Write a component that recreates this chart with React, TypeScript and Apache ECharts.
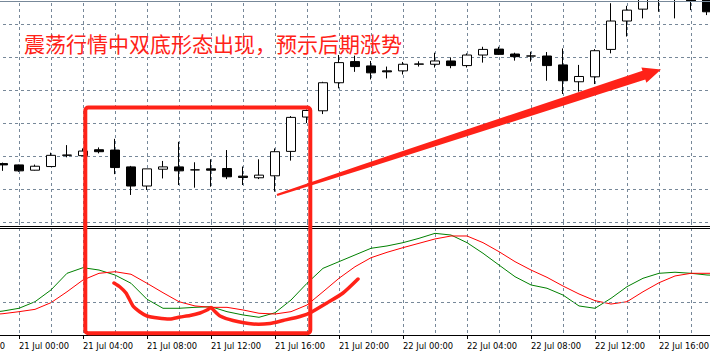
import React, { useEffect, useRef } from 'react';
import * as echarts from 'echarts';

// hourly categories (first three and the last are just off-screen)
const categories = [
  '20 Jul 20:00', '20 Jul 21:00', '20 Jul 22:00', '20 Jul 23:00',
  '21 Jul 00:00', '21 Jul 01:00', '21 Jul 02:00', '21 Jul 03:00', '21 Jul 04:00', '21 Jul 05:00',
  '21 Jul 06:00', '21 Jul 07:00', '21 Jul 08:00', '21 Jul 09:00', '21 Jul 10:00', '21 Jul 11:00',
  '21 Jul 12:00', '21 Jul 13:00', '21 Jul 14:00', '21 Jul 15:00', '21 Jul 16:00', '21 Jul 17:00',
  '21 Jul 18:00', '21 Jul 19:00', '21 Jul 20:00', '21 Jul 21:00', '21 Jul 22:00', '21 Jul 23:00',
  '22 Jul 00:00', '22 Jul 01:00', '22 Jul 02:00', '22 Jul 03:00', '22 Jul 04:00', '22 Jul 05:00',
  '22 Jul 06:00', '22 Jul 07:00', '22 Jul 08:00', '22 Jul 09:00', '22 Jul 10:00', '22 Jul 11:00',
  '22 Jul 12:00', '22 Jul 13:00', '22 Jul 14:00', '22 Jul 15:00', '22 Jul 16:00', '22 Jul 17:00',
  '22 Jul 18:00', '22 Jul 19:00', '22 Jul 20:00',
];

// [open, close, low, high]
const B = ['-', '-', '-', '-'];
const candles: any[] = [
  B, B, B,
  [1.17177, 1.17173, 1.17155, 1.1718],
  [1.17173, 1.17155, 1.17152, 1.17174],
  [1.17157, 1.17169, 1.17156, 1.17174],
  [1.17168, 1.17202, 1.17167, 1.1721],
  [1.17202, 1.17203, 1.17196, 1.17233],
  [1.17201, 1.17215, 1.172, 1.17223],
  [1.17219, 1.17213, 1.17208, 1.17226],
  [1.17218, 1.17165, 1.17145, 1.17252],
  [1.17167, 1.17109, 1.17082, 1.1717],
  [1.17109, 1.17161, 1.17097, 1.17161],
  [1.1716, 1.17167, 1.17132, 1.17185],
  [1.17167, 1.17155, 1.17112, 1.17243],
  [1.17158, 1.17158, 1.17104, 1.17181],
  [1.17161, 1.17157, 1.17107, 1.1719],
  [1.17162, 1.17137, 1.1713, 1.17218],
  [1.17139, 1.17135, 1.17112, 1.17168],
  [1.17134, 1.17142, 1.1713, 1.1719],
  [1.1714, 1.17213, 1.17092, 1.17223],
  [1.17214, 1.17317, 1.17186, 1.17321],
  [1.17318, 1.17338, 1.173, 1.17341],
  [1.17337, 1.17422, 1.17327, 1.17425],
  [1.17422, 1.17483, 1.17405, 1.17506],
  [1.17486, 1.17471, 1.17455, 1.17504],
  [1.17473, 1.17452, 1.17432, 1.17488],
  [1.17458, 1.17455, 1.17435, 1.17471],
  [1.17458, 1.17478, 1.17447, 1.17485],
  [1.17478, 1.17479, 1.17471, 1.17487],
  [1.17478, 1.17488, 1.17468, 1.17513],
  [1.17488, 1.17474, 1.17466, 1.17499],
  [1.17474, 1.17506, 1.17468, 1.17511],
  [1.17506, 1.17523, 1.17483, 1.17531],
  [1.17524, 1.17508, 1.17506, 1.17531],
  [1.17509, 1.17501, 1.17489, 1.17513],
  [1.17503, 1.17503, 1.17486, 1.17516],
  [1.17503, 1.17474, 1.17428, 1.17515],
  [1.17476, 1.17428, 1.17388, 1.17526],
  [1.17425, 1.17441, 1.17395, 1.17476],
  [1.1744, 1.17519, 1.17418, 1.17524],
  [1.17523, 1.17609, 1.17511, 1.17663],
  [1.17609, 1.17642, 1.17562, 1.17655],
  [1.17645, 1.17688, 1.17617, 1.17703],
  [1.17679, 1.17703, 1.17637, 1.17715],
  [1.17679, 1.17697, 1.17617, 1.17709],
  [1.17691, 1.1767, 1.17642, 1.17703],
  [1.17685, 1.17637, 1.17627, 1.17697],
  B,
];

const greenLine: any[] = [
  '-', '-', 20.8,
  22.6, 25.2, 31.4, 42.5, 58.2, 63.5, 61.3, 56.6, 48.8, 33.7,
  25.2, 25.2, 26.1, 26.7, 22.0, 18.9, 16.7, 21.0, 33.0, 48.8,
  62.9, 69.2, 75.5, 81.8, 84.0, 87.1, 91.2, 95.9, 94.3, 87.1,
  77.1, 66.0, 55.0, 47.2, 44.1, 37.7, 27.4, 25.2, 34.6, 45.6,
  53.5, 58.2, 59.2, 58.2, 56.6,
  56.1,
];

const redLine: any[] = [
  '-', '-', 18.9,
  20.1, 22.0, 24.2, 30.5, 40.8, 51.9, 58.2, 59.7, 57.3, 48.8,
  39.9, 31.4, 27.4, 26.1, 26.1, 23.6, 20.5, 19.8, 22.0, 28.3,
  40.8, 53.5, 64.4, 72.9, 78.0, 82.4, 86.5, 90.6, 93.4, 93.4,
  87.1, 78.6, 69.2, 61.3, 54.4, 46.2, 38.7, 32.4, 29.2, 31.4,
  40.8, 49.3, 55.7, 58.2, 58.2,
  58.2,
];

const priceMin = 1.17;
const priceMax = 1.177;
const priceStep = 0.001;
const oscMin = 0;
const oscMax = 106.6;
const oscLevels = [31.1];

const titleText = '震荡行情中双底形态出现，预示后期涨势';

const GRID = '#778899';
const ANNO = '#ff2218';
const LABEL_FONT = 'Tahoma, "DejaVu Sans Condensed", "Liberation Sans", sans-serif';

export default function App() {
  const ref = useRef<HTMLDivElement>(null);
  useEffect(() => {
    if (!ref.current) return;
    const chart = echarts.init(ref.current, null, { renderer: 'svg' });
    const dash = { color: GRID, type: [3, 3] as any, width: 1 };
    const every2 = (i: number) => i % 2 === 0;
    const every4 = (i: number) => i % 4 === 0;
    chart.setOption({
      animation: false,
      backgroundColor: '#ffffff',
      grid: [
        { left: -45, width: 768, top: -9, height: 231, outerBoundsMode: 'none', containLabel: false },
        { left: -45, width: 768, top: 222, height: 113, outerBoundsMode: 'none', containLabel: false },
      ],
      xAxis: [
        {
          type: 'category', gridIndex: 0, data: categories, boundaryGap: false,
          axisLine: { show: false }, axisTick: { show: false }, axisLabel: { show: false },
          splitLine: { show: true, interval: every2, lineStyle: dash },
        },
        {
          type: 'category', gridIndex: 1, data: categories, boundaryGap: false,
          axisLine: { show: true, lineStyle: { color: '#000', width: 1 } },
          axisTick: { show: true, interval: every4, length: 4, lineStyle: { color: '#000', width: 1 } },
          axisLabel: {
            show: true, interval: every4, align: 'left', margin: 5,
            fontSize: 9.3, lineHeight: 10, fontFamily: LABEL_FONT, color: '#000',
          },
          splitLine: { show: true, interval: every2, lineStyle: dash },
        },
      ],
      yAxis: [
        {
          type: 'value', gridIndex: 0, min: priceMin, max: priceMax, interval: priceStep,
          axisLine: { show: false }, axisTick: { show: false }, axisLabel: { show: false },
          splitLine: { show: true, lineStyle: dash },
        },
        {
          type: 'value', gridIndex: 1, min: oscMin, max: oscMax,
          axisLine: { show: false }, axisTick: { show: false }, axisLabel: { show: false },
          splitLine: { show: false },
        },
      ],
      series: [
        {
          type: 'candlestick', xAxisIndex: 0, yAxisIndex: 0, data: candles,
          barWidth: 10, clip: true, z: 3,
          itemStyle: {
            color: '#ffffff', color0: '#000000',
            borderColor: '#000000', borderColor0: '#000000', borderColorDoji: '#000000',
            borderWidth: 1,
          },
        },
        {
          type: 'line', xAxisIndex: 1, yAxisIndex: 1, data: greenLine,
          symbol: 'none', lineStyle: { color: '#008000', width: 1 },
          markLine: {
            silent: true, symbol: ['none', 'none'], label: { show: false },
            lineStyle: dash, data: oscLevels.map((v) => ({ yAxis: v })),
          },
        },
        {
          type: 'line', xAxisIndex: 1, yAxisIndex: 1, data: redLine,
          symbol: 'none', lineStyle: { color: '#ff0000', width: 1 },
        },
      ],
      graphic: [
        { type: 'line', z: 100, shape: { x1: 0, y1: 1.5, x2: 710, y2: 1.5 }, style: { stroke: GRID, lineWidth: 1 } },
        { type: 'line', z: 100, shape: { x1: 0, y1: 226.5, x2: 710, y2: 226.5 }, style: { stroke: '#000', lineWidth: 1 } },
        { type: 'line', z: 100, shape: { x1: 0, y1: 228.5, x2: 710, y2: 228.5 }, style: { stroke: '#000', lineWidth: 1 } },
        {
          type: 'text', z: 101, x: 24, y: 43,
          style: { text: titleText, fill: ANNO, fontSize: 21, fontFamily: '"Noto Sans CJK SC"', verticalAlign: 'middle' },
        },
        {
          type: 'rect', z: 101, shape: { x: 85.3, y: 107.5, width: 225, height: 225.8, r: 3 },
          style: { fill: 'none', stroke: ANNO, lineWidth: 4 },
        },
        {
          type: 'polygon', z: 101,
          shape: {
            points: [
              [276.6, 193.9], [361.8, 164.7], [642.5, 70.8], [641.4, 67.5], [661, 69.5],
              [646.4, 82.7], [645.3, 79.4], [363.2, 169.3], [277.4, 196.1],
            ],
          },
          style: { fill: ANNO, stroke: 'none' },
        },
        {
          type: 'polyline', z: 101,
          shape: {
            smooth: 0.2,
            points: [
              [114, 283], [120, 287], [126, 293], [133, 306], [140, 312], [147, 316], [158, 318],
              [170, 319], [180, 317], [190, 315.5], [200, 313], [207, 310], [211, 307.5], [214, 310.5],
              [220, 316], [233, 320.5], [253, 324], [270, 323.5], [283, 320.5], [300, 316.5],
              [310, 313], [327, 303], [343, 293], [358, 279],
            ],
          },
          style: { fill: 'none', stroke: ANNO, lineWidth: 3.5, lineCap: 'round', lineJoin: 'round' },
        },
      ],
    });
    return () => chart.dispose();
  }, []);
  return <div ref={ref} style={{ position: 'absolute', left: 0, top: 0, width: 710, height: 352 }} />;
}
